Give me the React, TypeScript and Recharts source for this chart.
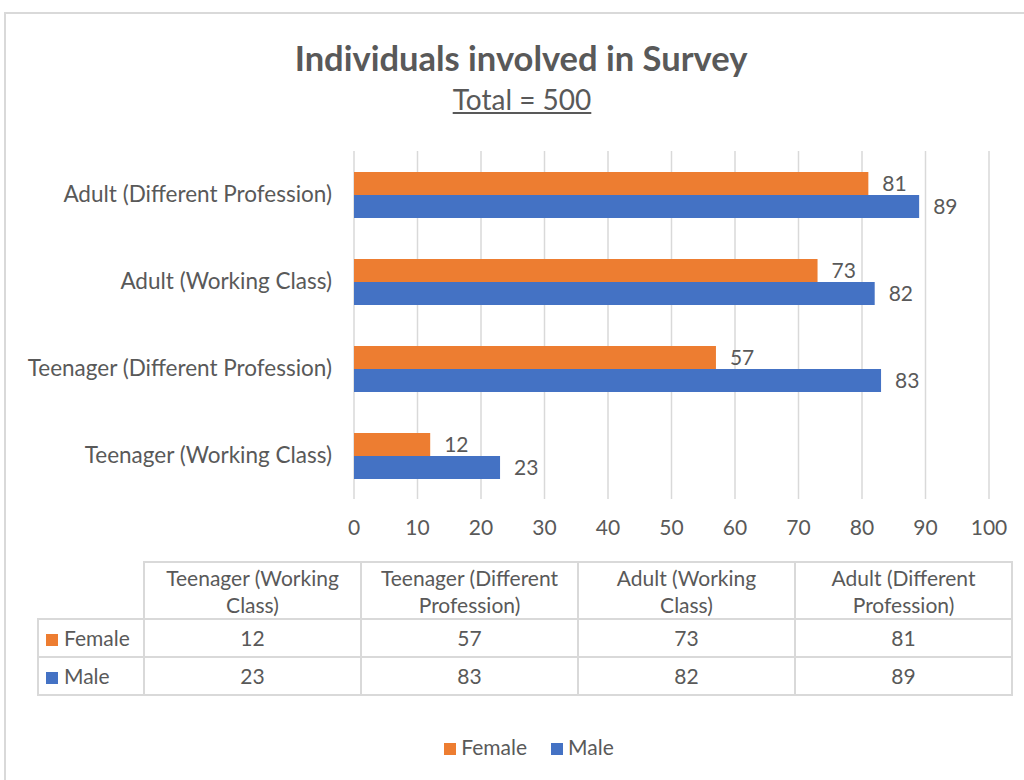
import React from 'react';
import { BarChart, Bar, XAxis, YAxis, CartesianGrid, LabelList } from 'recharts';

const categories = [
  'Teenager (Working Class)',
  'Teenager (Different Profession)',
  'Adult (Working Class)',
  'Adult (Different Profession)',
];
const femaleValues = [12, 57, 73, 81];
const maleValues = [23, 83, 82, 89];
const xTicks = [0, 10, 20, 30, 40, 50, 60, 70, 80, 90, 100];

const series = [
  { key: 'Female', color: '#ED7D31', values: femaleValues },
  { key: 'Male', color: '#4472C4', values: maleValues },
];

const data = categories.map((c, i) => ({
  category: c,
  Female: femaleValues[i],
  Male: maleValues[i],
}));

const FONT = 'Lato, "Open Sans", sans-serif';
const TEXT = '#595959';
const LINE = '#d9d9d9';

const cellBorder = `2px solid ${LINE}`;

const App: React.FC = () => {
  return (
    <div style={{ position: 'absolute', left: 0, top: 0, width: 1024, height: 780, overflow: 'hidden', background: '#fff', fontFamily: FONT, color: TEXT }}>
      <div style={{ position: 'absolute', left: 4, top: 12, width: 1100, height: 900, border: `2px solid ${LINE}` }} />

      <div style={{ position: 'absolute', left: 0, width: 1042, top: 37, textAlign: 'center', fontSize: 34.5, fontWeight: 700, lineHeight: '42px' }}>
        Individuals involved in Survey
      </div>
      <div style={{ position: 'absolute', left: 0, width: 1044, top: 82, textAlign: 'center', fontSize: 28, lineHeight: '34px', textDecoration: 'underline' }}>
        Total = 500
      </div>

      <div style={{ position: 'absolute', left: 0, top: 0 }}>
        <BarChart
          width={1024}
          height={540}
          layout="vertical"
          data={data}
          margin={{ top: 151, right: 35, bottom: 11, left: 0 }}
          barCategoryGap="24%"
          barGap={0}
        >
          <CartesianGrid horizontal={false} stroke={LINE} strokeWidth={1.5} />
          <XAxis
            type="number"
            domain={[0, 100]}
            ticks={xTicks}
            axisLine={false}
            tickLine={false}
            tickSize={0}
            tickMargin={21}
            height={30}
            tick={{ fill: TEXT, fontSize: 21, fontFamily: FONT }}
          />
          <YAxis
            type="category"
            dataKey="category"
            reversed
            width={354}
            axisLine={false}
            tickLine={false}
            tickSize={0}
            tickMargin={22}
            tick={{ fill: TEXT, fontSize: 22.5, fontFamily: FONT }}
          />
          {series.map((s) => (
            <Bar key={s.key} dataKey={s.key} fill={s.color} isAnimationActive={false}>
              <LabelList dataKey={s.key} position="right" offset={14} fill={TEXT} fontSize={21} fontFamily={FONT} />
            </Bar>
          ))}
        </BarChart>
      </div>

      <table
        style={{
          position: 'absolute',
          left: 37,
          top: 561,
          borderCollapse: 'collapse',
          fontSize: 21,
          color: TEXT,
          fontFamily: FONT,
          tableLayout: 'fixed',
        }}
      >
        <colgroup>
          <col style={{ width: 106 }} />
          {categories.map((c) => (
            <col key={c} style={{ width: 217 }} />
          ))}
        </colgroup>
        <tbody>
          <tr style={{ height: 57 }}>
            <td style={{ border: 'none' }} />
            {categories.map((c) => (
              <td key={c} style={{ border: cellBorder, textAlign: 'center', padding: '0 14px', lineHeight: '27px' }}>
                {c}
              </td>
            ))}
          </tr>
          {series.map((s) => (
            <tr key={s.key} style={{ height: 38 }}>
              <td style={{ border: cellBorder, padding: '0 0 0 7px', whiteSpace: 'nowrap', lineHeight: '34px' }}>
                <span style={{ display: 'inline-block', width: 12, height: 12, background: s.color, marginRight: 6 }} />
                {s.key}
              </td>
              {s.values.map((v, i) => (
                <td key={i} style={{ border: cellBorder, textAlign: 'center', lineHeight: '34px' }}>
                  {v}
                </td>
              ))}
            </tr>
          ))}
        </tbody>
      </table>

      <div style={{ position: 'absolute', left: 10, width: 1062, top: 733, textAlign: 'center', fontSize: 21, lineHeight: '28px' }}>
        {series.map((s) => (
          <span key={s.key} style={{ marginRight: 24 }}>
            <span style={{ display: 'inline-block', width: 12, height: 12, background: s.color, marginRight: 5 }} />
            {s.key}
          </span>
        ))}
      </div>
    </div>
  );
};

export default App;
